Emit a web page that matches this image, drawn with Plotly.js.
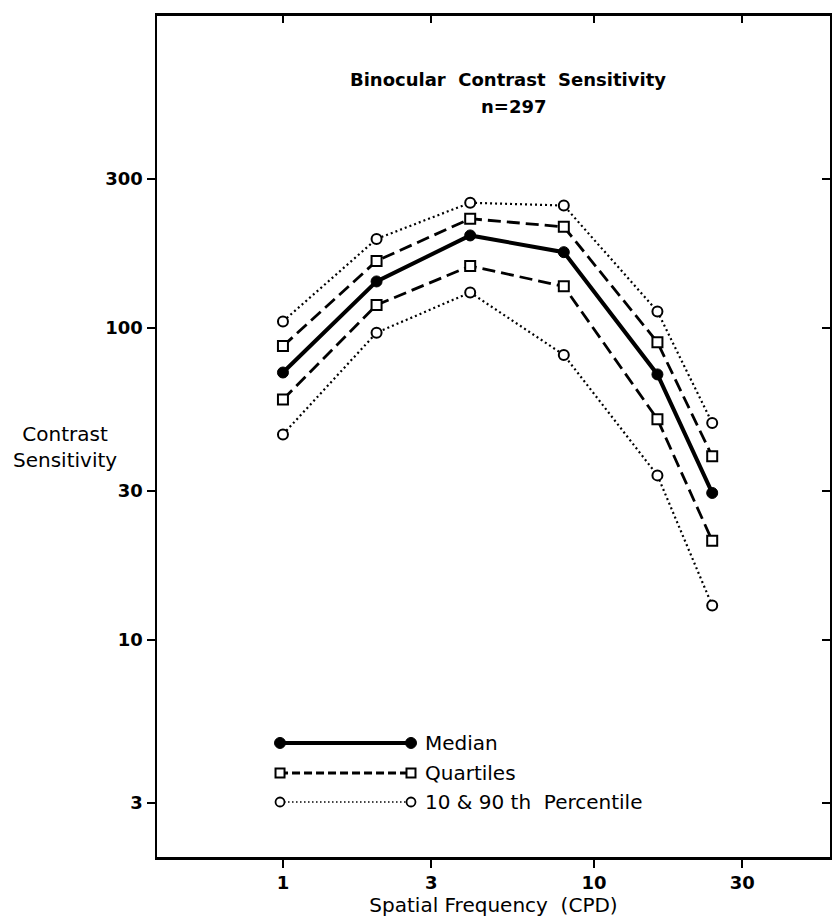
<!DOCTYPE html>
<html>
<head>
<meta charset="utf-8">
<script src="https://cdn.plot.ly/plotly-3.0.1.min.js"></script>
<style>
  html, body { margin: 0; padding: 0; background: #fff; overflow: hidden; }
  #chart { width: 832px; height: 924px; }
</style>
</head>
<body>
<div id="chart"></div>
<script>
// ---- data ----
const freq = [1, 2, 4, 8, 16, 24];                       // spatial frequency (CPD)
const medianCS = [72, 141, 198, 175, 71, 29.6];          // median
const upperQuartile = [87.5, 164, 224, 211, 90, 38.8];   // 75th percentile
const lowerQuartile = [59, 118.5, 158, 136, 51, 20.8];   // 25th percentile
const p90 = [105, 193, 252, 247, 113, 49.6];             // 90th percentile
const p10 = [45.6, 96.6, 130, 82, 33.7, 12.9];           // 10th percentile

const xTickVals = [1, 3, 10, 30];
const xTickText = ['1', '3', '10', '30'];
const yTickVals = [3, 10, 30, 100, 300];
const yTickText = ['3', '10', '30', '100', '300'];

const legendLabels = ['Median', 'Quartiles', '10 & 90 th\u00a0 Percentile'];

// ---- styling ----
const FONT = 'DejaVu Sans, Arial, sans-serif';
const BLACK = '#000';
const xRange = [-0.405, 1.759];
const yRange = [0.3045, 3.0];

const dotted = { color: BLACK, width: 2.2, dash: '2px,3px' };
const dashed = { color: BLACK, width: 2.8, dash: '13px,6px' };
const solid = { color: BLACK, width: 4 };
const openCircle = { symbol: 'circle', size: 10, color: '#fff', line: { color: BLACK, width: 2 } };
const openSquare = { symbol: 'square', size: 10, color: '#fff', line: { color: BLACK, width: 2 } };
const filledCircle = { symbol: 'circle', size: 11, color: BLACK, line: { color: BLACK, width: 1 } };

const traces = [
  { x: freq, y: p90, name: '90th Percentile', mode: 'lines+markers', line: dotted, marker: openCircle },
  { x: freq, y: p10, name: '10th Percentile', mode: 'lines+markers', line: dotted, marker: openCircle },
  { x: freq, y: upperQuartile, name: 'Upper Quartile', mode: 'lines+markers', line: dashed, marker: openSquare },
  { x: freq, y: lowerQuartile, name: 'Lower Quartile', mode: 'lines+markers', line: dashed, marker: openSquare },
  { x: freq, y: medianCS, name: 'Median', mode: 'lines+markers', line: solid, marker: filledCircle },
  // empty trace so the mirrored top/right axes (inside ticks) are drawn
  { x: [], y: [], xaxis: 'x2', yaxis: 'y2', mode: 'markers', hoverinfo: 'skip', showlegend: false }
];

// ---- hand-drawn style legend (line with a marker at each end) ----
const legX0 = 0.1828, legX1 = 0.3774, legTextX = 0.3952;
const legY = [0.1356, 0.0999, 0.0654];
const shapes = [];
function endMarker(type, x, y, r, fill, lw) {
  return { type: type, xref: 'paper', yref: 'paper', xsizemode: 'pixel', ysizemode: 'pixel',
           xanchor: x, yanchor: y, x0: -r, x1: r, y0: -r, y1: r,
           fillcolor: fill, line: { color: BLACK, width: lw } };
}
shapes.push({ type: 'line', xref: 'paper', yref: 'paper', x0: legX0, x1: legX1, y0: legY[0], y1: legY[0],
              line: { color: BLACK, width: 4 } });
shapes.push({ type: 'line', xref: 'paper', yref: 'paper', x0: legX0, x1: legX1, y0: legY[1], y1: legY[1],
              line: { color: BLACK, width: 2.8, dash: '8px,4px' } });
shapes.push({ type: 'line', xref: 'paper', yref: 'paper', x0: legX0, x1: legX1, y0: legY[2], y1: legY[2],
              line: { color: BLACK, width: 1.6, dash: '1.5px,2.5px' } });
shapes.push(endMarker('circle', legX0, legY[0], 5.5, BLACK, 1));
shapes.push(endMarker('circle', legX1, legY[0], 5.5, BLACK, 1));
shapes.push(endMarker('rect', legX0, legY[1], 4.5, '#fff', 2));
shapes.push(endMarker('rect', legX1, legY[1], 4.5, '#fff', 2));
shapes.push(endMarker('circle', legX0, legY[2], 4.5, '#fff', 1.8));
shapes.push(endMarker('circle', legX1, legY[2], 4.5, '#fff', 1.8));

const annotations = [
  { text: '<b>n=297</b>', xref: 'paper', yref: 'paper', x: 0.529, y: 0.892, xanchor: 'center', yanchor: 'middle',
    showarrow: false, font: { family: FONT, size: 18, color: BLACK } },
  { text: 'Contrast<br>Sensitivity', xref: 'paper', yref: 'paper', x: -0.1367, y: 0.4875,
    xanchor: 'center', yanchor: 'middle', align: 'center', showarrow: false,
    font: { family: FONT, size: 20, color: BLACK } }
];
legendLabels.forEach(function (t, i) {
  annotations.push({ text: t, xref: 'paper', yref: 'paper', x: legTextX, y: legY[i],
                     xanchor: 'left', yanchor: 'middle', showarrow: false,
                     font: { family: FONT, size: 20, color: BLACK } });
});

const layout = {
  width: 832, height: 924,
  margin: { l: 157, r: 2, t: 16, b: 67 },
  paper_bgcolor: '#fff', plot_bgcolor: '#fff',
  showlegend: false,
  font: { family: FONT, size: 19, color: BLACK },
  title: { text: '<b>Binocular\u00a0 Contrast\u00a0 Sensitivity</b>', font: { family: FONT, size: 18, color: BLACK },
           xref: 'container', yref: 'container', x: 508 / 832, y: 1 - 80 / 924,
           xanchor: 'center', yanchor: 'middle' },
  xaxis: {
    type: 'log', range: xRange, tickvals: xTickVals, ticktext: xTickText,
    ticks: 'outside', ticklen: 8, tickwidth: 2, tickcolor: BLACK,
    showline: true, linewidth: 2.5, linecolor: BLACK, showgrid: false, zeroline: false,
    tickfont: { family: FONT, size: 18, color: BLACK, weight: 'bold' },
    title: { text: 'Spatial Frequency\u00a0 (CPD)', font: { family: FONT, size: 20, color: BLACK }, standoff: 6 }
  },
  yaxis: {
    type: 'log', range: yRange, tickvals: yTickVals, ticktext: yTickText,
    ticks: 'outside', ticklen: 8, tickwidth: 2, tickcolor: BLACK,
    showline: true, linewidth: 2.5, linecolor: BLACK, showgrid: false, zeroline: false,
    tickfont: { family: FONT, size: 18, color: BLACK, weight: 'bold' }
  },
  xaxis2: {
    type: 'log', range: xRange, tickvals: xTickVals, overlaying: 'x', side: 'top', anchor: 'y2',
    ticks: 'inside', ticklen: 7, tickwidth: 2, tickcolor: BLACK, showticklabels: false,
    showline: true, linewidth: 3, linecolor: BLACK, showgrid: false, zeroline: false
  },
  yaxis2: {
    type: 'log', range: yRange, tickvals: yTickVals, overlaying: 'y', side: 'right', anchor: 'x2',
    ticks: 'inside', ticklen: 8, tickwidth: 2, tickcolor: BLACK, showticklabels: false,
    showline: true, linewidth: 2, linecolor: BLACK, showgrid: false, zeroline: false
  },
  shapes: shapes,
  annotations: annotations
};

Plotly.newPlot('chart', traces, layout, { staticPlot: true, displayModeBar: false });
</script>
</body>
</html>
